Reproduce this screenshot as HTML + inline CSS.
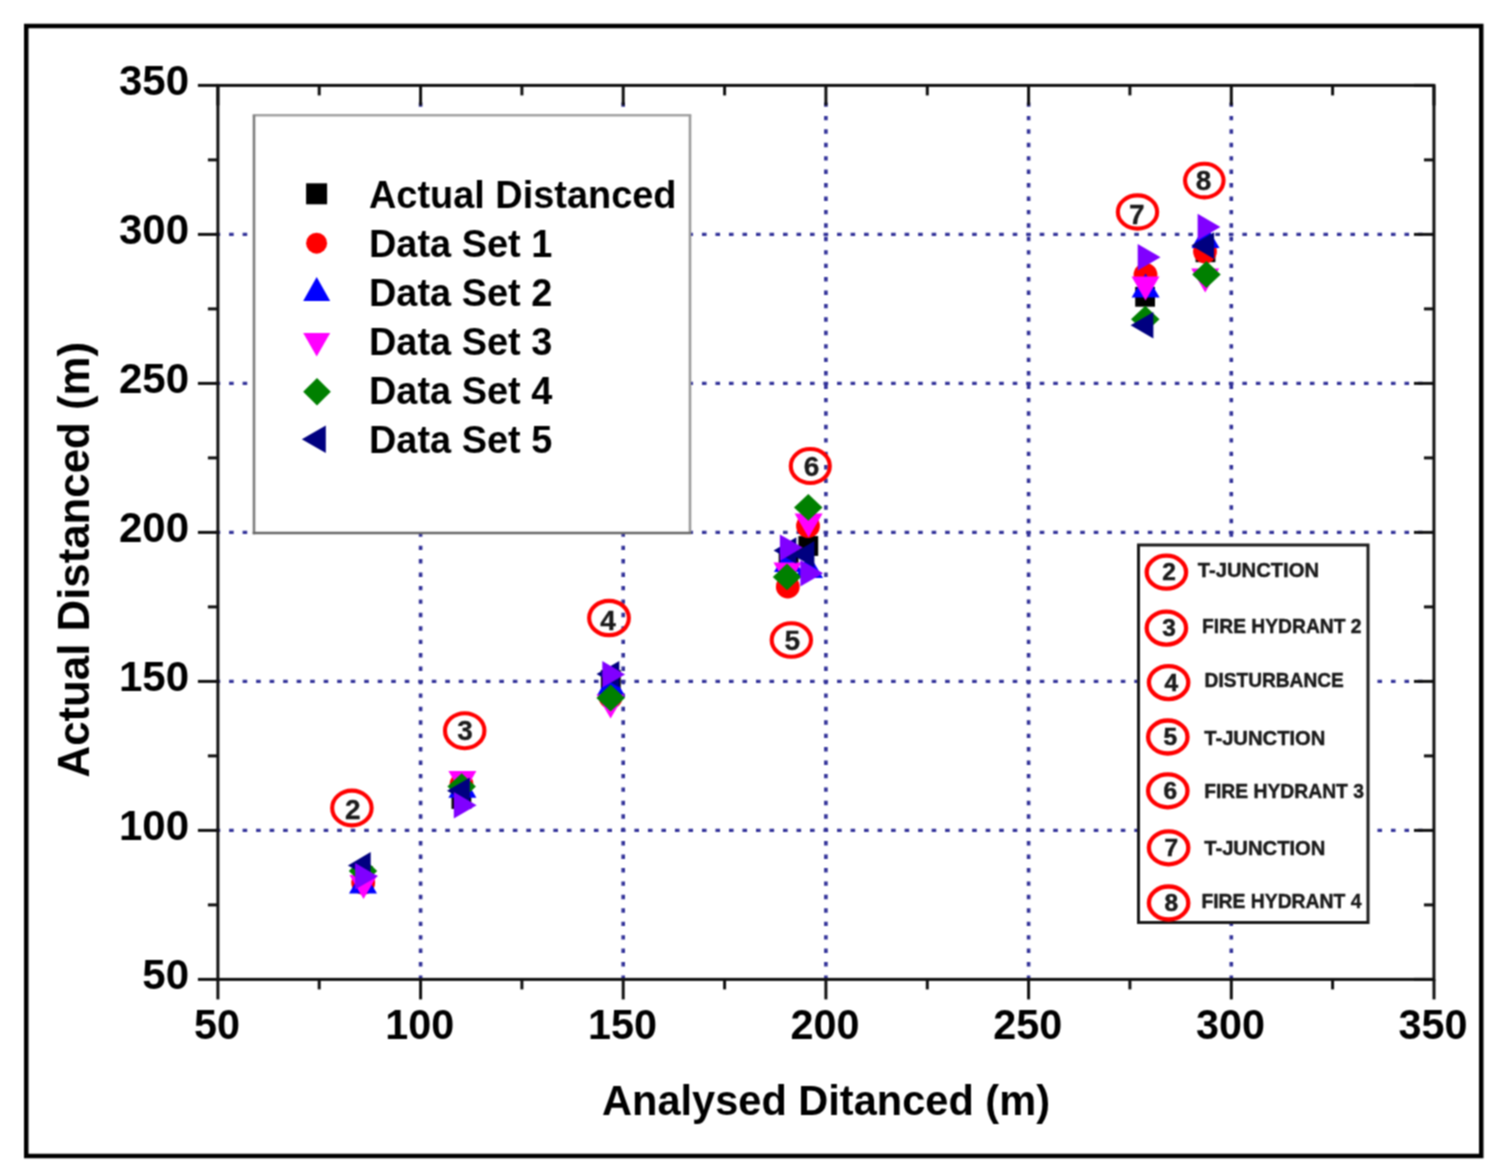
<!DOCTYPE html>
<html><head><meta charset="utf-8"><title>Chart</title>
<style>html,body{margin:0;padding:0;background:#fff;} svg{display:block;}</style>
</head><body>
<svg width="1500" height="1176" viewBox="0 0 1500 1176">
<defs><filter id="bl" x="0" y="0" width="1500" height="1176" filterUnits="userSpaceOnUse" color-interpolation-filters="sRGB"><feConvolveMatrix order="3" kernelMatrix="1 2 1 2 4 2 1 2 1" divisor="16" edgeMode="duplicate"/></filter></defs>
<rect width="1500" height="1176" fill="#fff"/>
<g filter="url(#bl)">
<rect x="26.25" y="26" width="1455" height="1130" fill="none" stroke="#000" stroke-width="4.5"/>
<line x1="215.6" y1="830.4" x2="1432.45" y2="830.4" stroke="#333399" stroke-width="3.4" stroke-dasharray="4.6 8.91"/>
<line x1="420.6" y1="102.47" x2="420.6" y2="979.4" stroke="#333399" stroke-width="3.6" stroke-dasharray="4.4 9.03"/>
<line x1="215.6" y1="681.4" x2="1432.45" y2="681.4" stroke="#333399" stroke-width="3.4" stroke-dasharray="4.6 8.91"/>
<line x1="623.2" y1="102.47" x2="623.2" y2="979.4" stroke="#333399" stroke-width="3.6" stroke-dasharray="4.4 9.03"/>
<line x1="215.6" y1="532.4" x2="1432.45" y2="532.4" stroke="#333399" stroke-width="3.4" stroke-dasharray="4.6 8.91"/>
<line x1="825.9" y1="102.47" x2="825.9" y2="979.4" stroke="#333399" stroke-width="3.6" stroke-dasharray="4.4 9.03"/>
<line x1="215.6" y1="383.4" x2="1432.45" y2="383.4" stroke="#333399" stroke-width="3.4" stroke-dasharray="4.6 8.91"/>
<line x1="1028.6" y1="102.47" x2="1028.6" y2="979.4" stroke="#333399" stroke-width="3.6" stroke-dasharray="4.4 9.03"/>
<line x1="215.6" y1="234.4" x2="1432.45" y2="234.4" stroke="#333399" stroke-width="3.4" stroke-dasharray="4.6 8.91"/>
<line x1="1231.3" y1="102.47" x2="1231.3" y2="979.4" stroke="#333399" stroke-width="3.6" stroke-dasharray="4.4 9.03"/>
<rect x="217.9" y="85.39999999999998" width="1216.05" height="894.0" fill="none" stroke="#111" stroke-width="3"/>
<line x1="217.9" y1="979.4" x2="217.9" y2="999.4" stroke="#111" stroke-width="3"/>
<line x1="217.9" y1="85.39999999999998" x2="217.9" y2="105.39999999999998" stroke="#111" stroke-width="3"/>
<line x1="217.9" y1="979.4" x2="197.9" y2="979.4" stroke="#111" stroke-width="3"/>
<line x1="1433.95" y1="979.4" x2="1413.95" y2="979.4" stroke="#111" stroke-width="3"/>
<line x1="319.2" y1="979.4" x2="319.2" y2="989.4" stroke="#111" stroke-width="3"/>
<line x1="319.2" y1="85.39999999999998" x2="319.2" y2="95.39999999999998" stroke="#111" stroke-width="3"/>
<line x1="217.9" y1="904.9" x2="207.9" y2="904.9" stroke="#111" stroke-width="3"/>
<line x1="1433.95" y1="904.9" x2="1423.95" y2="904.9" stroke="#111" stroke-width="3"/>
<line x1="420.6" y1="979.4" x2="420.6" y2="999.4" stroke="#111" stroke-width="3"/>
<line x1="420.6" y1="85.39999999999998" x2="420.6" y2="105.39999999999998" stroke="#111" stroke-width="3"/>
<line x1="217.9" y1="830.4" x2="197.9" y2="830.4" stroke="#111" stroke-width="3"/>
<line x1="1433.95" y1="830.4" x2="1413.95" y2="830.4" stroke="#111" stroke-width="3"/>
<line x1="521.9" y1="979.4" x2="521.9" y2="989.4" stroke="#111" stroke-width="3"/>
<line x1="521.9" y1="85.39999999999998" x2="521.9" y2="95.39999999999998" stroke="#111" stroke-width="3"/>
<line x1="217.9" y1="755.9" x2="207.9" y2="755.9" stroke="#111" stroke-width="3"/>
<line x1="1433.95" y1="755.9" x2="1423.95" y2="755.9" stroke="#111" stroke-width="3"/>
<line x1="623.2" y1="979.4" x2="623.2" y2="999.4" stroke="#111" stroke-width="3"/>
<line x1="623.2" y1="85.39999999999998" x2="623.2" y2="105.39999999999998" stroke="#111" stroke-width="3"/>
<line x1="217.9" y1="681.4" x2="197.9" y2="681.4" stroke="#111" stroke-width="3"/>
<line x1="1433.95" y1="681.4" x2="1413.95" y2="681.4" stroke="#111" stroke-width="3"/>
<line x1="724.6" y1="979.4" x2="724.6" y2="989.4" stroke="#111" stroke-width="3"/>
<line x1="724.6" y1="85.39999999999998" x2="724.6" y2="95.39999999999998" stroke="#111" stroke-width="3"/>
<line x1="217.9" y1="606.9" x2="207.9" y2="606.9" stroke="#111" stroke-width="3"/>
<line x1="1433.95" y1="606.9" x2="1423.95" y2="606.9" stroke="#111" stroke-width="3"/>
<line x1="825.9" y1="979.4" x2="825.9" y2="999.4" stroke="#111" stroke-width="3"/>
<line x1="825.9" y1="85.39999999999998" x2="825.9" y2="105.39999999999998" stroke="#111" stroke-width="3"/>
<line x1="217.9" y1="532.4" x2="197.9" y2="532.4" stroke="#111" stroke-width="3"/>
<line x1="1433.95" y1="532.4" x2="1413.95" y2="532.4" stroke="#111" stroke-width="3"/>
<line x1="927.3" y1="979.4" x2="927.3" y2="989.4" stroke="#111" stroke-width="3"/>
<line x1="927.3" y1="85.39999999999998" x2="927.3" y2="95.39999999999998" stroke="#111" stroke-width="3"/>
<line x1="217.9" y1="457.9" x2="207.9" y2="457.9" stroke="#111" stroke-width="3"/>
<line x1="1433.95" y1="457.9" x2="1423.95" y2="457.9" stroke="#111" stroke-width="3"/>
<line x1="1028.6" y1="979.4" x2="1028.6" y2="999.4" stroke="#111" stroke-width="3"/>
<line x1="1028.6" y1="85.39999999999998" x2="1028.6" y2="105.39999999999998" stroke="#111" stroke-width="3"/>
<line x1="217.9" y1="383.4" x2="197.9" y2="383.4" stroke="#111" stroke-width="3"/>
<line x1="1433.95" y1="383.4" x2="1413.95" y2="383.4" stroke="#111" stroke-width="3"/>
<line x1="1129.9" y1="979.4" x2="1129.9" y2="989.4" stroke="#111" stroke-width="3"/>
<line x1="1129.9" y1="85.39999999999998" x2="1129.9" y2="95.39999999999998" stroke="#111" stroke-width="3"/>
<line x1="217.9" y1="308.9" x2="207.9" y2="308.9" stroke="#111" stroke-width="3"/>
<line x1="1433.95" y1="308.9" x2="1423.95" y2="308.9" stroke="#111" stroke-width="3"/>
<line x1="1231.3" y1="979.4" x2="1231.3" y2="999.4" stroke="#111" stroke-width="3"/>
<line x1="1231.3" y1="85.39999999999998" x2="1231.3" y2="105.39999999999998" stroke="#111" stroke-width="3"/>
<line x1="217.9" y1="234.4" x2="197.9" y2="234.4" stroke="#111" stroke-width="3"/>
<line x1="1433.95" y1="234.4" x2="1413.95" y2="234.4" stroke="#111" stroke-width="3"/>
<line x1="1332.6" y1="979.4" x2="1332.6" y2="989.4" stroke="#111" stroke-width="3"/>
<line x1="1332.6" y1="85.39999999999998" x2="1332.6" y2="95.39999999999998" stroke="#111" stroke-width="3"/>
<line x1="217.9" y1="159.9" x2="207.9" y2="159.9" stroke="#111" stroke-width="3"/>
<line x1="1433.95" y1="159.9" x2="1423.95" y2="159.9" stroke="#111" stroke-width="3"/>
<line x1="1434.0" y1="979.4" x2="1434.0" y2="999.4" stroke="#111" stroke-width="3"/>
<line x1="1434.0" y1="85.39999999999998" x2="1434.0" y2="105.39999999999998" stroke="#111" stroke-width="3"/>
<line x1="217.9" y1="85.4" x2="197.9" y2="85.4" stroke="#111" stroke-width="3"/>
<line x1="1433.95" y1="85.4" x2="1413.95" y2="85.4" stroke="#111" stroke-width="3"/>
<text x="189" y="989.4" font-family="Liberation Sans, sans-serif" font-weight="bold" font-size="42" text-anchor="end">50</text>
<text x="194.1" y="1039" font-family="Liberation Sans, sans-serif" font-weight="bold" font-size="42" textLength="46.0" lengthAdjust="spacingAndGlyphs">50</text>
<text x="189" y="840.4" font-family="Liberation Sans, sans-serif" font-weight="bold" font-size="42" text-anchor="end">100</text>
<text x="385.3" y="1039" font-family="Liberation Sans, sans-serif" font-weight="bold" font-size="42" textLength="69.0" lengthAdjust="spacingAndGlyphs">100</text>
<text x="189" y="691.4" font-family="Liberation Sans, sans-serif" font-weight="bold" font-size="42" text-anchor="end">150</text>
<text x="587.9" y="1039" font-family="Liberation Sans, sans-serif" font-weight="bold" font-size="42" textLength="69.0" lengthAdjust="spacingAndGlyphs">150</text>
<text x="189" y="542.4" font-family="Liberation Sans, sans-serif" font-weight="bold" font-size="42" text-anchor="end">200</text>
<text x="790.6" y="1039" font-family="Liberation Sans, sans-serif" font-weight="bold" font-size="42" textLength="69.0" lengthAdjust="spacingAndGlyphs">200</text>
<text x="189" y="393.4" font-family="Liberation Sans, sans-serif" font-weight="bold" font-size="42" text-anchor="end">250</text>
<text x="993.3" y="1039" font-family="Liberation Sans, sans-serif" font-weight="bold" font-size="42" textLength="69.0" lengthAdjust="spacingAndGlyphs">250</text>
<text x="189" y="244.4" font-family="Liberation Sans, sans-serif" font-weight="bold" font-size="42" text-anchor="end">300</text>
<text x="1196.0" y="1039" font-family="Liberation Sans, sans-serif" font-weight="bold" font-size="42" textLength="69.0" lengthAdjust="spacingAndGlyphs">300</text>
<text x="189" y="95.4" font-family="Liberation Sans, sans-serif" font-weight="bold" font-size="42" text-anchor="end">350</text>
<text x="1398.6" y="1039" font-family="Liberation Sans, sans-serif" font-weight="bold" font-size="42" textLength="69.0" lengthAdjust="spacingAndGlyphs">350</text>
<text x="602" y="1115" font-family="Liberation Sans, sans-serif" font-weight="bold" font-size="42" textLength="448" lengthAdjust="spacingAndGlyphs">Analysed Ditanced (m)</text>
<text transform="translate(89,777.5) rotate(-90)" x="0" y="0" font-family="Liberation Sans, sans-serif" font-weight="bold" font-size="43.8">Actual Distanced (m)</text>
<rect x="254" y="115.2" width="436" height="417.8" fill="#fff"/>
<line x1="252.7" y1="115.2" x2="691.3" y2="115.2" stroke="#a2a2a2" stroke-width="2.6"/>
<line x1="690" y1="115.2" x2="690" y2="533" stroke="#9c9c9c" stroke-width="2.6"/>
<line x1="254" y1="115.2" x2="254" y2="534.3" stroke="#7d7d7d" stroke-width="2.6"/>
<line x1="252.7" y1="533" x2="691.3" y2="533" stroke="#686868" stroke-width="2.6"/>
<rect x="306.1" y="183.3" width="21.0" height="21.0" fill="#000000"/>
<circle cx="316.6" cy="243.2" r="10.5" fill="#ff0000"/>
<polygon points="303.2,300.9 330.2,300.9 316.7,277.1" fill="#0000ff"/>
<polygon points="303.2,332.9 330.2,332.9 316.7,356.4" fill="#ff00ff"/>
<polygon points="317.0,377.9 330.8,391.7 317.0,405.4 303.2,391.7" fill="#008000"/>
<polygon points="325.8,425.6 325.8,453.1 301.8,439.3" fill="#000080"/>
<text x="369" y="208.0" font-family="Liberation Sans, sans-serif" font-weight="bold" font-size="37.9">Actual Distanced</text>
<text x="369" y="257.0" font-family="Liberation Sans, sans-serif" font-weight="bold" font-size="37.9">Data Set 1</text>
<text x="369" y="306.0" font-family="Liberation Sans, sans-serif" font-weight="bold" font-size="37.9">Data Set 2</text>
<text x="369" y="355.0" font-family="Liberation Sans, sans-serif" font-weight="bold" font-size="37.9">Data Set 3</text>
<text x="369" y="404.0" font-family="Liberation Sans, sans-serif" font-weight="bold" font-size="37.9">Data Set 4</text>
<text x="369" y="453.0" font-family="Liberation Sans, sans-serif" font-weight="bold" font-size="37.9">Data Set 5</text>
<rect x="1138.5" y="545" width="229.5" height="377.5" fill="#fff" stroke="#1a1a1a" stroke-width="3"/>
<ellipse cx="1166.4" cy="572.2" rx="19.7" ry="16.5" fill="none" stroke="#ff0000" stroke-width="4.3"/>
<text x="1169.0" y="580.4" font-family="Liberation Sans, sans-serif" font-weight="bold" fill="#1a1a1a" font-size="24.5" stroke="#1a1a1a" stroke-width="0.5" text-anchor="middle">2</text>
<text x="1197.8" y="577.0" font-family="Liberation Sans, sans-serif" font-weight="bold" fill="#1a1a1a" font-size="20.5" stroke="#1a1a1a" stroke-width="0.45" textLength="121.2" lengthAdjust="spacingAndGlyphs">T-JUNCTION</text>
<ellipse cx="1166.4" cy="628.1" rx="19.7" ry="16.5" fill="none" stroke="#ff0000" stroke-width="4.3"/>
<text x="1169.0" y="636.3" font-family="Liberation Sans, sans-serif" font-weight="bold" fill="#1a1a1a" font-size="24.5" stroke="#1a1a1a" stroke-width="0.5" text-anchor="middle">3</text>
<text x="1202.1" y="632.6" font-family="Liberation Sans, sans-serif" font-weight="bold" fill="#1a1a1a" font-size="20.5" stroke="#1a1a1a" stroke-width="0.45" textLength="159.5" lengthAdjust="spacingAndGlyphs">FIRE HYDRANT 2</text>
<ellipse cx="1168.6" cy="682.6" rx="19.7" ry="16.5" fill="none" stroke="#ff0000" stroke-width="4.3"/>
<text x="1171.2" y="690.8" font-family="Liberation Sans, sans-serif" font-weight="bold" fill="#1a1a1a" font-size="24.5" stroke="#1a1a1a" stroke-width="0.5" text-anchor="middle">4</text>
<text x="1204.6" y="686.7" font-family="Liberation Sans, sans-serif" font-weight="bold" fill="#1a1a1a" font-size="20.5" stroke="#1a1a1a" stroke-width="0.45" textLength="139.2" lengthAdjust="spacingAndGlyphs">DISTURBANCE</text>
<ellipse cx="1167.8" cy="737" rx="19.7" ry="16.5" fill="none" stroke="#ff0000" stroke-width="4.3"/>
<text x="1170.4" y="745.2" font-family="Liberation Sans, sans-serif" font-weight="bold" fill="#1a1a1a" font-size="24.5" stroke="#1a1a1a" stroke-width="0.5" text-anchor="middle">5</text>
<text x="1204.2" y="745.2" font-family="Liberation Sans, sans-serif" font-weight="bold" fill="#1a1a1a" font-size="20.5" stroke="#1a1a1a" stroke-width="0.45" textLength="121.2" lengthAdjust="spacingAndGlyphs">T-JUNCTION</text>
<ellipse cx="1167.8" cy="790.8" rx="19.7" ry="16.5" fill="none" stroke="#ff0000" stroke-width="4.3"/>
<text x="1170.4" y="799.0" font-family="Liberation Sans, sans-serif" font-weight="bold" fill="#1a1a1a" font-size="24.5" stroke="#1a1a1a" stroke-width="0.5" text-anchor="middle">6</text>
<text x="1204.2" y="797.6" font-family="Liberation Sans, sans-serif" font-weight="bold" fill="#1a1a1a" font-size="20.5" stroke="#1a1a1a" stroke-width="0.45" textLength="159.8" lengthAdjust="spacingAndGlyphs">FIRE HYDRANT 3</text>
<ellipse cx="1168.6" cy="847.8" rx="19.7" ry="16.5" fill="none" stroke="#ff0000" stroke-width="4.3"/>
<text x="1171.2" y="856.0" font-family="Liberation Sans, sans-serif" font-weight="bold" fill="#1a1a1a" font-size="24.5" stroke="#1a1a1a" stroke-width="0.5" text-anchor="middle">7</text>
<text x="1204.2" y="854.7" font-family="Liberation Sans, sans-serif" font-weight="bold" fill="#1a1a1a" font-size="20.5" stroke="#1a1a1a" stroke-width="0.45" textLength="121.2" lengthAdjust="spacingAndGlyphs">T-JUNCTION</text>
<ellipse cx="1168.6" cy="903" rx="19.7" ry="16.5" fill="none" stroke="#ff0000" stroke-width="4.3"/>
<text x="1171.2" y="911.2" font-family="Liberation Sans, sans-serif" font-weight="bold" fill="#1a1a1a" font-size="24.5" stroke="#1a1a1a" stroke-width="0.5" text-anchor="middle">8</text>
<text x="1201.4" y="908.0" font-family="Liberation Sans, sans-serif" font-weight="bold" fill="#1a1a1a" font-size="20.5" stroke="#1a1a1a" stroke-width="0.45" textLength="160.0" lengthAdjust="spacingAndGlyphs">FIRE HYDRANT 4</text>
<ellipse cx="351.9" cy="808.0" rx="19.7" ry="17.35" fill="none" stroke="#ff0000" stroke-width="4.1"/>
<text x="352.9" y="818.6" font-family="Liberation Sans, sans-serif" font-weight="bold" fill="#1a1a1a" font-size="28" stroke="#1a1a1a" stroke-width="0.3" text-anchor="middle">2</text>
<ellipse cx="464.7" cy="730.7" rx="19.7" ry="17.5" fill="none" stroke="#ff0000" stroke-width="4.1"/>
<text x="465.0" y="740.0" font-family="Liberation Sans, sans-serif" font-weight="bold" fill="#1a1a1a" font-size="28" stroke="#1a1a1a" stroke-width="0.3" text-anchor="middle">3</text>
<ellipse cx="609.0" cy="618.0" rx="19.85" ry="17.15" fill="none" stroke="#ff0000" stroke-width="4.1"/>
<text x="608.0" y="629.7" font-family="Liberation Sans, sans-serif" font-weight="bold" fill="#1a1a1a" font-size="28" stroke="#1a1a1a" stroke-width="0.3" text-anchor="middle">4</text>
<ellipse cx="791.35" cy="640.0" rx="19.65" ry="16.8" fill="none" stroke="#ff0000" stroke-width="4.1"/>
<text x="792.4" y="649.9" font-family="Liberation Sans, sans-serif" font-weight="bold" fill="#1a1a1a" font-size="28" stroke="#1a1a1a" stroke-width="0.3" text-anchor="middle">5</text>
<ellipse cx="810.3" cy="466.0" rx="19.5" ry="17.0" fill="none" stroke="#ff0000" stroke-width="4.1"/>
<text x="811.5" y="475.5" font-family="Liberation Sans, sans-serif" font-weight="bold" fill="#1a1a1a" font-size="28" stroke="#1a1a1a" stroke-width="0.3" text-anchor="middle">6</text>
<ellipse cx="1137.5" cy="212.0" rx="19.65" ry="16.6" fill="none" stroke="#ff0000" stroke-width="4.1"/>
<text x="1136.9" y="224.0" font-family="Liberation Sans, sans-serif" font-weight="bold" fill="#1a1a1a" font-size="28" stroke="#1a1a1a" stroke-width="0.3" text-anchor="middle">7</text>
<ellipse cx="1204.3" cy="180.6" rx="19.25" ry="16.8" fill="none" stroke="#ff0000" stroke-width="4.1"/>
<text x="1203.6" y="190.3" font-family="Liberation Sans, sans-serif" font-weight="bold" fill="#1a1a1a" font-size="28" stroke="#1a1a1a" stroke-width="0.3" text-anchor="middle">8</text>
<rect x="353.1" y="866.1" width="19.8" height="19.8" fill="#000000"/>
<rect x="451.5" y="789.1" width="19.8" height="19.8" fill="#000000"/>
<rect x="600.9" y="670.1" width="19.8" height="19.8" fill="#000000"/>
<rect x="778.7" y="548.1" width="19.8" height="19.8" fill="#000000"/>
<rect x="798.4" y="536.1" width="19.8" height="19.8" fill="#000000"/>
<rect x="1135.2" y="286.9" width="19.8" height="19.8" fill="#000000"/>
<rect x="1195.6" y="242.4" width="19.8" height="19.8" fill="#000000"/>
<circle cx="363.2" cy="882.8" r="11.9" fill="#ff0000"/>
<circle cx="461.5" cy="784.5" r="11.9" fill="#ff0000"/>
<circle cx="610.6" cy="697.0" r="11.9" fill="#ff0000"/>
<circle cx="787.8" cy="586.7" r="11.9" fill="#ff0000"/>
<circle cx="808.0" cy="526.0" r="11.9" fill="#ff0000"/>
<circle cx="1145.5" cy="274.8" r="11.9" fill="#ff0000"/>
<circle cx="1205.0" cy="251.5" r="11.9" fill="#ff0000"/>
<polygon points="349.0,893.5 377.0,893.5 363.0,869.5" fill="#0000ff"/>
<polygon points="448.4,797.8 476.4,797.8 462.4,773.8" fill="#0000ff"/>
<polygon points="596.9,695.5 624.9,695.5 610.9,671.5" fill="#0000ff"/>
<polygon points="774.0,572.0 802.0,572.0 788.0,548.0" fill="#0000ff"/>
<polygon points="795.0,578.0 823.0,578.0 809.0,554.0" fill="#0000ff"/>
<polygon points="1131.6,297.6 1159.6,297.6 1145.6,273.6" fill="#0000ff"/>
<polygon points="1191.5,248.0 1219.5,248.0 1205.5,224.0" fill="#0000ff"/>
<polygon points="349.5,875.0 377.5,875.0 363.5,899.0" fill="#ff00ff"/>
<polygon points="448.4,771.0 476.4,771.0 462.4,795.0" fill="#ff00ff"/>
<polygon points="596.6,694.5 624.6,694.5 610.6,718.5" fill="#ff00ff"/>
<polygon points="773.5,562.5 801.5,562.5 787.5,586.5" fill="#ff00ff"/>
<polygon points="794.6,513.6 822.6,513.6 808.6,537.6" fill="#ff00ff"/>
<polygon points="1131.5,276.6 1159.5,276.6 1145.5,300.6" fill="#ff00ff"/>
<polygon points="1191.2,268.5 1219.2,268.5 1205.2,292.5" fill="#ff00ff"/>
<polygon points="363.0,857.6 377.2,871.0 363.0,884.4 348.8,871.0" fill="#008000"/>
<polygon points="461.7,773.2 475.9,786.6 461.7,800.0 447.4,786.6" fill="#008000"/>
<polygon points="610.6,684.6 624.9,698.0 610.6,711.4 596.4,698.0" fill="#008000"/>
<polygon points="787.0,563.5 801.2,576.9 787.0,590.3 772.8,576.9" fill="#008000"/>
<polygon points="808.3,494.0 822.5,507.4 808.3,520.8 794.0,507.4" fill="#008000"/>
<polygon points="1145.3,305.8 1159.5,319.2 1145.3,332.6 1131.0,319.2" fill="#008000"/>
<polygon points="1206.4,261.1 1220.7,274.5 1206.4,287.9 1192.2,274.5" fill="#008000"/>
<polygon points="370.7,852.1 370.7,878.6 347.9,865.4" fill="#000080"/>
<polygon points="469.8,777.5 469.8,804.0 447.0,790.7" fill="#000080"/>
<polygon points="619.3,660.9 619.3,687.4 596.5,674.1" fill="#000080"/>
<polygon points="796.4,537.2 796.4,563.8 773.6,550.5" fill="#000080"/>
<polygon points="814.4,541.1 814.4,567.6 791.6,554.4" fill="#000080"/>
<polygon points="1153.4,312.1 1153.4,338.6 1130.6,325.3" fill="#000080"/>
<polygon points="1214.1,232.3 1214.1,258.9 1191.3,245.6" fill="#000080"/>
<polygon points="355.1,863.0 355.1,889.5 377.9,876.2" fill="#8000ff"/>
<polygon points="453.8,792.0 453.8,818.5 476.6,805.2" fill="#8000ff"/>
<polygon points="602.3,661.1 602.3,687.6 625.1,674.4" fill="#8000ff"/>
<polygon points="779.9,534.4 779.9,560.9 802.7,547.6" fill="#8000ff"/>
<polygon points="800.3,560.0 800.3,586.5 823.1,573.3" fill="#8000ff"/>
<polygon points="1137.7,243.9 1137.7,270.4 1160.5,257.2" fill="#8000ff"/>
<polygon points="1197.6,213.8 1197.6,240.2 1220.4,227.0" fill="#8000ff"/>
</g>
</svg>
</body></html>
